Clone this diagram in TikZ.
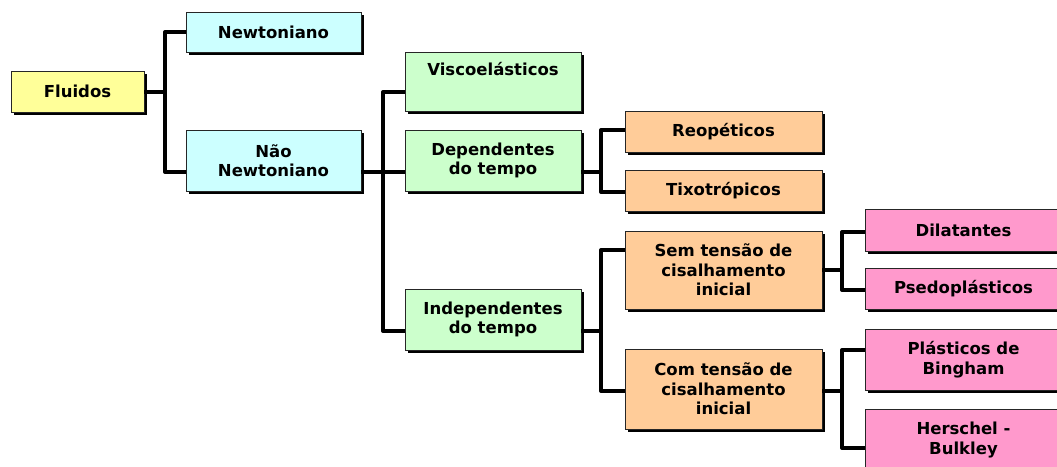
\documentclass[tikz,border=0pt]{standalone}
\usepackage{fontspec}
\setmainfont{DejaVu Sans}
\usetikzlibrary{shadows}
\definecolor{cYel}{HTML}{FFFF99}
\definecolor{cCyan}{HTML}{CCFFFF}
\definecolor{cGreen}{HTML}{CCFFCC}
\definecolor{cOrange}{HTML}{FFCC99}
\definecolor{cPink}{HTML}{FF99CC}
\begin{document}
\begin{tikzpicture}[x=1pt,y=-1pt,
  font=\fontsize{16.5}{19.5}\selectfont\bfseries,
  box/.style={draw=black!85, line width=0.9pt, inner sep=0pt, align=center,
    general shadow={fill=black, shadow xshift=2.8pt, shadow yshift=-2.8pt}},
  yel/.style={box, fill=cYel, minimum width=133pt},
  cyanbox/.style={box, fill=cCyan, minimum width=175pt},
  greenbox/.style={box, fill=cGreen, minimum width=176pt},
  orangebox/.style={box, fill=cOrange, minimum width=197pt},
  pinkbox/.style={box, fill=cPink, minimum width=197pt},
  conn/.style={line width=4pt, line join=round, draw=black}]
\useasboundingbox (0,0) rectangle (1057,466);
\clip (0,0) rectangle (1057,466);
\fill[white] (0,0) rectangle (1057,466);

% nodes
\node[yel, minimum height=41pt] (fluidos) at (77.5,91.5) {Fluidos};
\node[cyanbox, minimum height=40pt] (newt) at (273.5,32) {Newtoniano};
\node[cyanbox, minimum height=61pt] (nao) at (273.5,160.5) {Não\\Newtoniano};
\node[greenbox, minimum height=59pt] (visco) at (493,81.5) {Viscoelásticos\\\strut};
\node[greenbox, minimum height=61pt] (dep) at (493,160.5) {Dependentes\\do tempo};
\node[greenbox, minimum height=61pt] (indep) at (493,319.5) {Independentes\\do tempo};
\node[orangebox, minimum height=41pt] (reo) at (723.5,131.5) {Reopéticos};
\node[orangebox, minimum height=41pt] (tixo) at (723.5,190.5) {Tixotrópicos};
\node[orangebox, minimum height=78pt] (sem) at (723.5,270) {Sem tensão de\\cisalhamento\\inicial};
\node[orangebox, minimum height=80pt] (com) at (723.5,389) {Com tensão de\\cisalhamento\\inicial};
\node[pinkbox, minimum height=42pt] (dil) at (963.5,230) {Dilatantes};
\node[pinkbox, minimum height=41pt] (pse) at (963.5,288.5) {Psedoplásticos};
\node[pinkbox, minimum height=61pt] (bin) at (963.5,359.5) {Plásticos de\\Bingham};
\node[pinkbox, minimum height=61pt] (her) at (963.5,440) {Herschel -\\Bulkley};

% bus coordinates
\coordinate (b1) at (165,91.5);
\coordinate (b2) at (383,172);
\coordinate (b3) at (601,172);
\coordinate (b4) at (601,331);
\coordinate (b5) at (842,270);
\coordinate (b6) at (842,391);

% connectors
\draw[conn] (fluidos.east) -- (b1);
\draw[conn] (newt.west) -| (b1) |- ([yshift=-11.5pt]nao.west);

\draw[conn] ([yshift=-11.5pt]nao.east) -- ([yshift=-11.5pt]dep.west);
\draw[conn] ([yshift=-10.5pt]visco.west) -| (b2) |- ([yshift=-11.5pt]indep.west);

\draw[conn] ([yshift=-11.5pt]dep.east) -- (b3);
\draw[conn] ([yshift=1.5pt]reo.west) -| (b3) |- ([yshift=-1.5pt]tixo.west);

\draw[conn] ([yshift=-11.5pt]indep.east) -- (b4);
\draw[conn] ([yshift=20pt]sem.west) -| (b4) |- ([yshift=-2pt]com.west);

\draw[conn] (sem.east) -- (b5);
\draw[conn] ([yshift=-2pt]dil.west) -| (b5) |- ([yshift=-1.5pt]pse.west);

\draw[conn] ([yshift=-2pt]com.east) -- (b6);
\draw[conn] ([yshift=9.5pt]bin.west) -| (b6) |- ([yshift=-8pt]her.west);
\end{tikzpicture}
\end{document}
